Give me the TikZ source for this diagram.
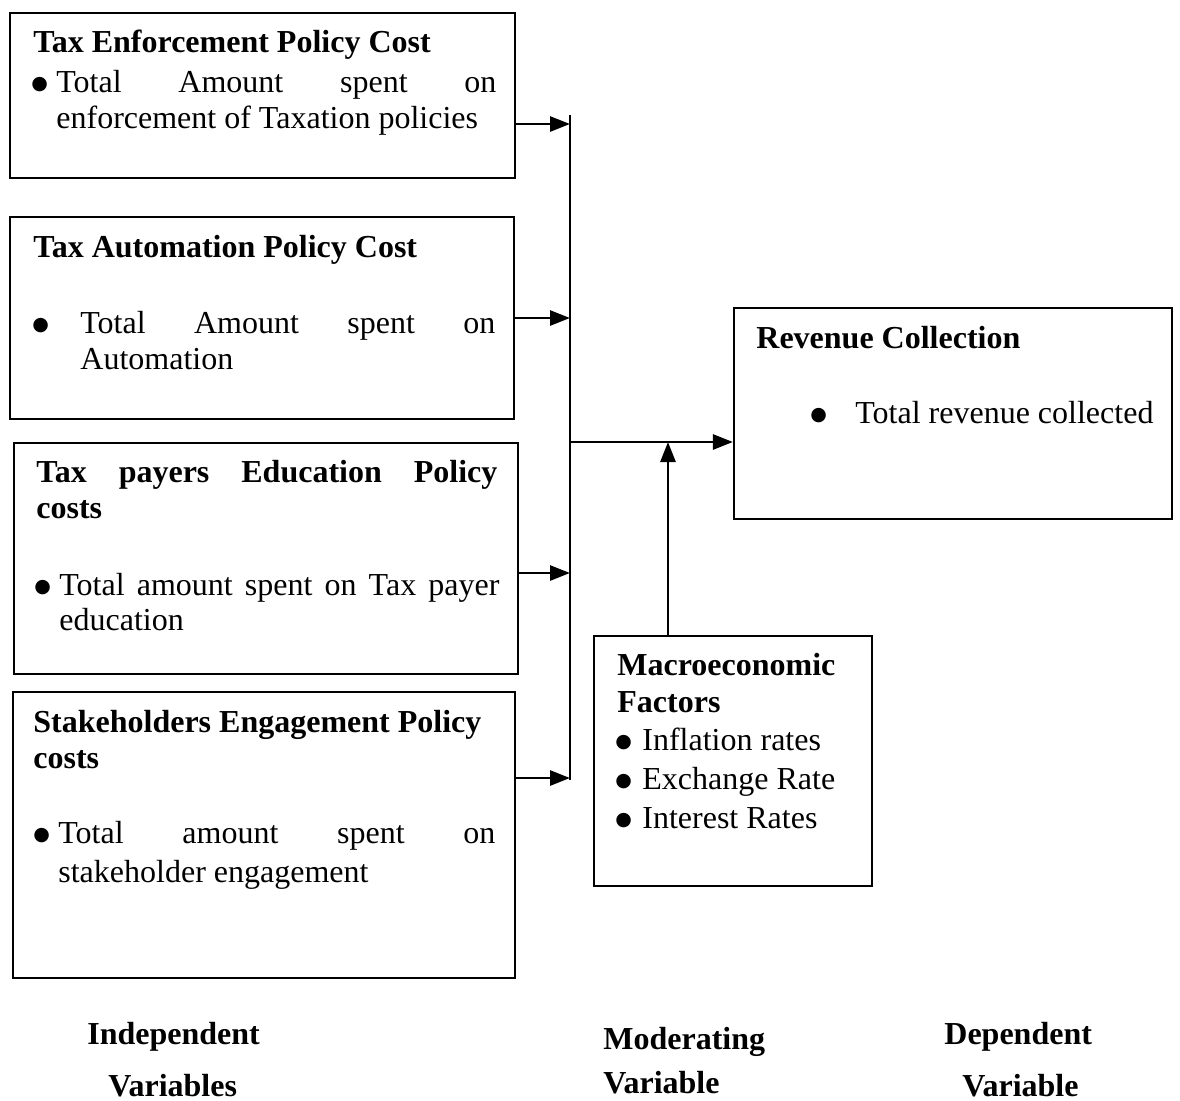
\documentclass[tikz,border=0pt]{standalone}
\usepackage{fontspec}
\setmainfont{Liberation Serif}
\newfontfamily\dejavu{DejaVu Sans}
\usetikzlibrary{arrows.meta,fit}
\newcommand{\bul}{\raisebox{1.4pt}{\dejavu\fontsize{9.5pt}{11pt}\selectfont ●}}
\tikzset{
  vbox/.style={draw, line width=1.1pt, inner sep=0pt},
  txt/.style={inner sep=0pt, anchor=base west, font=\fontsize{16pt}{18.4pt}\selectfont},
  btxt/.style={txt, font=\fontsize{16pt}{18.4pt}\selectfont\bfseries},
  conn/.style={line width=1.1pt},
  arr/.style={line width=1.4pt, -{Triangle[length=10pt,width=7.5pt]}}
}
\begin{document}
\begin{tikzpicture}[x=0.5pt,y=-0.5pt]
\clip (0,0) rectangle (1180,1100);
\fill[white] (0,0) rectangle (1180,1100);
% boxes
\node[vbox, fit={(10,13) (515,178)}] (b1) {};
\node[vbox, fit={(10,217) (514,419)}] (b2) {};
\node[vbox, fit={(14,443) (518,674)}] (b3) {};
\node[vbox, fit={(13,692) (515,978)}] (b4) {};
\node[vbox, fit={(734,308) (1172,519)}] (rv) {};
\node[vbox, fit={(594,636) (872,886)}] (mc) {};
% box 1
\node[btxt] (b1t) at (33,52) {Tax Enforcement Policy Cost};
\node[txt] (b1b) at (31,92) {\bul};
\node[txt] (b1l1) at (56,92) {\makebox[220pt][s]{Total Amount spent on}};
\node[txt] (b1l2) at (56,128) {enforcement of Taxation policies};
% box 2
\node[btxt] (b2t) at (33,257) {Tax Automation Policy Cost};
\node[txt] (b2b) at (32,333) {\bul};
\node[txt] (b2l1) at (80,333) {\makebox[207.5pt][s]{Total Amount spent on}};
\node[txt] (b2l2) at (80,369) {Automation};
% box 3
\node[btxt] (b3t1) at (36,482) {\makebox[230.5pt][s]{Tax payers Education Policy}};
\node[btxt] (b3t2) at (36,518) {costs};
\node[txt] (b3b) at (34,595) {\bul};
\node[txt] (b3l1) at (59,595) {\makebox[220pt][s]{Total amount spent on Tax payer}};
\node[txt] (b3l2) at (59,630) {education};
% box 4
\node[btxt] (b4t1) at (33,732) {Stakeholders Engagement Policy};
\node[btxt] (b4t2) at (33,768) {costs};
\node[txt] (b4b) at (33,843) {\bul};
\node[txt] (b4l1) at (58,843) {\makebox[218.5pt][s]{Total amount spent on}};
\node[txt] (b4l2) at (58,882) {stakeholder engagement};
% revenue
\node[btxt] (rvt) at (756,348) {Revenue Collection};
\node[txt] (rvb) at (810,423) {\bul};
\node[txt] (rvl) at (855,423) {Total revenue collected};
% macro
\node[btxt] (mct1) at (617,675) {Macroeconomic};
\node[btxt] (mct2) at (617,712) {Factors};
\node[txt] (mcb1) at (615,750) {\bul};
\node[txt] (mcl1) at (642,750) {Inflation rates};
\node[txt] (mcb2) at (615,789) {\bul};
\node[txt] (mcl2) at (642,789) {Exchange Rate};
\node[txt] (mcb3) at (615,828) {\bul};
\node[txt] (mcl3) at (642,828) {Interest Rates};
% labels
\node[btxt] (li1) at (87,1044) {Independent};
\node[btxt] (li2) at (108,1096) {Variables};
\node[btxt] (lm1) at (603,1049) {Moderating};
\node[btxt] (lm2) at (603,1093) {Variable};
\node[btxt] (ld1) at (944,1044) {Dependent};
\node[btxt] (ld2) at (962,1096) {Variable};
% connectors
\coordinate (bustop) at (570,115);
\coordinate (busbot) at (570,780);
\coordinate (p1) at (570,124);
\coordinate (p2) at (570,318);
\coordinate (p3) at (570,573);
\coordinate (p4) at (570,778);
\coordinate (pm) at (570,442);
\coordinate (pj) at (668,442);
\draw[conn] (bustop) -- (busbot);
\draw[arr] (b1.east |- p1) -- (p1);
\draw[arr] (b2.east |- p2) -- (p2);
\draw[arr] (b3.east |- p3) -- (p3);
\draw[arr] (b4.east |- p4) -- (p4);
\draw[arr] (pm) -- (rv.west |- pm);
\draw[arr] (mc.north -| pj) -- (pj);
\end{tikzpicture}
\end{document}
